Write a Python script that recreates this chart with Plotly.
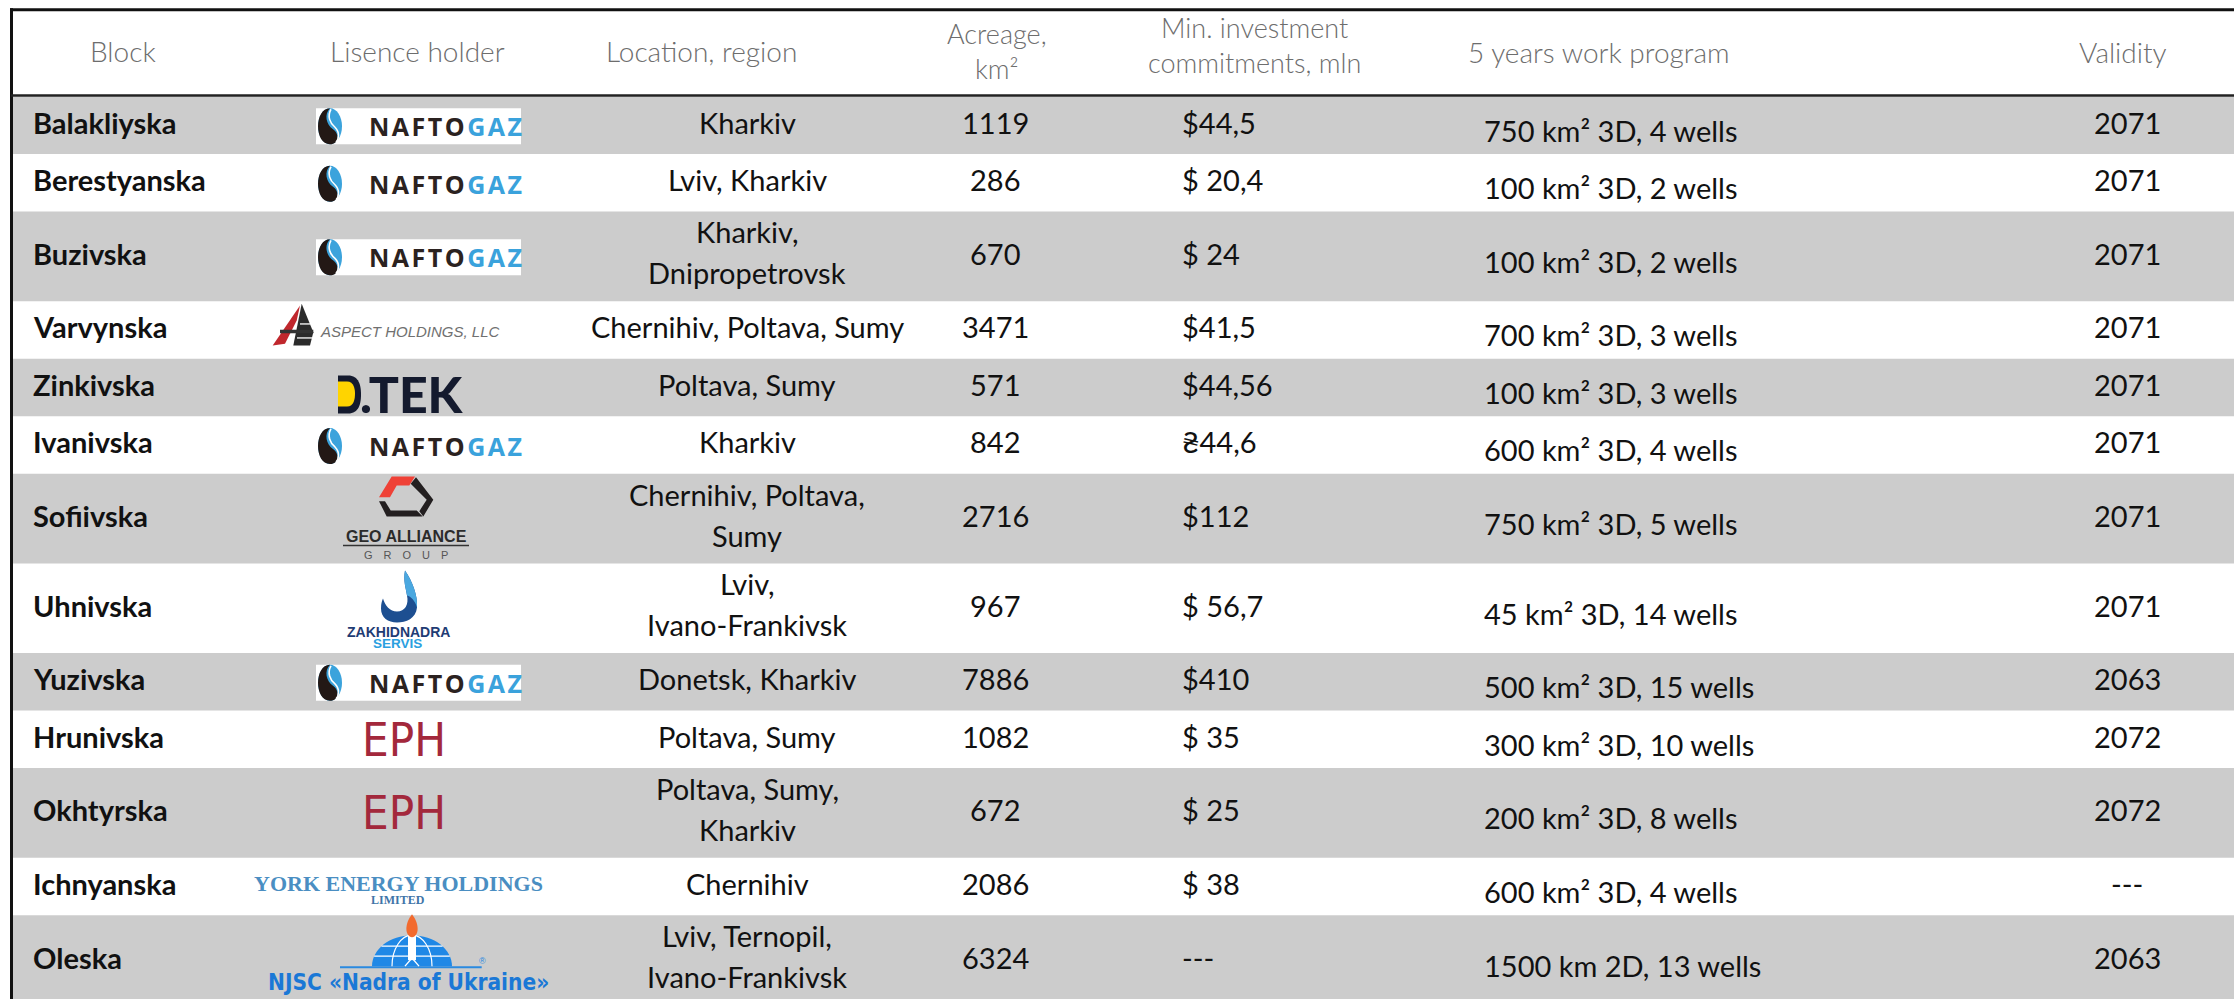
import plotly.graph_objects as go

# ---------------- data ----------------
blocks = ["Balakliyska", "Berestyanska", "Buzivska", "Varvynska", "Zinkivska", "Ivanivska",
          "Sofiivska", "Uhnivska", "Yuzivska", "Hrunivska", "Okhtyrska", "Ichnyanska", "Oleska"]
holders = ["naftogaz", "naftogaz", "naftogaz", "aspect", "dtek", "naftogaz",
           "geo", "zakhid", "naftogaz", "eph", "eph", "york", "nadra"]
locations = ["Kharkiv", "Lviv, Kharkiv", "Kharkiv,<br>Dnipropetrovsk", "Chernihiv, Poltava, Sumy",
             "Poltava, Sumy", "Kharkiv", "Chernihiv, Poltava,<br>Sumy", "Lviv,<br>Ivano-Frankivsk",
             "Donetsk, Kharkiv", "Poltava, Sumy", "Poltava, Sumy,<br>Kharkiv", "Chernihiv",
             "Lviv, Ternopil,<br>Ivano-Frankivsk"]
acreage = [1119, 286, 670, 3471, 571, 842, 2716, 967, 7886, 1082, 672, 2086, 6324]
investment = ["$44,5", "$ 20,4", "$ 24", "$41,5", "$44,56", "₴44,6", "$112", "$ 56,7",
              "$410", "$ 35", "$ 25", "$ 38", "---"]
work_program = ["750 km² 3D, 4 wells", "100 km² 3D, 2 wells", "100 km² 3D, 2 wells",
                "700 km² 3D, 3 wells", "100 km² 3D, 3 wells", "600 km² 3D, 4 wells",
                "750 km² 3D, 5 wells", "45 km² 3D, 14 wells", "500 km² 3D, 15 wells",
                "300 km² 3D, 10 wells", "200 km² 3D, 8 wells", "600 km² 3D, 4 wells",
                "1500 km 2D, 13 wells"]
validity = ["2071", "2071", "2071", "2071", "2071", "2071", "2071", "2071",
            "2063", "2072", "2072", "---", "2063"]
header_labels = ["Block", "Lisence holder", "Location, region", "Acreage,<br>km²",
                 "Min. investment<br>commitments, mln", "5 years work program", "Validity"]

# ---------------- layout constants ----------------
W, H = 2234, 999
FONT = "Lato, 'Fira Sans', 'Open Sans', sans-serif"
SANS = "'Liberation Sans', Arial, sans-serif"
NARROW = "'Liberation Sans Narrow', 'Arial Narrow', 'DejaVu Sans Condensed', sans-serif"
SERIF = "'Liberation Serif', 'Times New Roman', serif"
GRAY = "#cccccc"
HEADER_BOTTOM = 96.5
SINGLE_H, DOUBLE_H = 57.5, 89.7
LEFT_EDGE = 13

header_x = [123, 417, 701, 997, 1254, 1599, 2123]
header_y = [51, 51, 51, 50.5, 45, 52, 52]
X_BLOCK, X_HOLDER, X_LOC, X_ACRE, X_INV, X_WP, X_VAL = 31, 418, 747, 995, 1180, 1482, 2127

annotations = []
shapes = []


def txt(x, y, text, size, color="#111111", family=FONT, weight=400, xanchor="center",
        yanchor="middle", italic=False):
    annotations.append(dict(x=x, y=y, xref="x", yref="y", text=text, showarrow=False,
                            xanchor=xanchor, yanchor=yanchor,
                            font=dict(size=size, color=color, family=family, weight=weight,
                                      style="italic" if italic else "normal")))


def rect(x0, y0, x1, y1, fill, layer="below"):
    shapes.append(dict(type="rect", xref="x", yref="y", x0=x0, y0=y0, x1=x1, y1=y1,
                       fillcolor=fill, line=dict(width=0), layer=layer))


def seg(x0, y0, x1, y1, color, width, layer="above"):
    shapes.append(dict(type="line", xref="x", yref="y", x0=x0, y0=y0, x1=x1, y1=y1,
                       line=dict(color=color, width=width), layer=layer))


def path(cmds, ox, oy, fill=None, line_color=None, line_width=0):
    parts = []
    for c in cmds:
        op = c[0]
        if op == "Z":
            parts.append("Z")
            continue
        nums = c[1:]
        pts = []
        for i in range(0, len(nums), 2):
            pts.append(f"{ox + nums[i]:.2f},{oy + nums[i + 1]:.2f}")
        parts.append(op + " " + " ".join(pts))
    d = dict(type="path", xref="x", yref="y", path=" ".join(parts), layer="above",
             line=dict(width=line_width, color=line_color or "rgba(0,0,0,0)"))
    if fill:
        d["fillcolor"] = fill
    shapes.append(d)


def poly(pts, ox, oy, fill):
    cmds = [("M",) + pts[0]] + [("L",) + p for p in pts[1:]] + [("Z",)]
    path(cmds, ox, oy, fill=fill)


K = 0.5523


def ellipse_cmds(rx, ry):
    return [("M", -rx, 0), ("C", -rx, -K * ry, -K * rx, -ry, 0, -ry),
            ("C", K * rx, -ry, rx, -K * ry, rx, 0),
            ("C", rx, K * ry, K * rx, ry, 0, ry),
            ("C", -K * rx, ry, -rx, K * ry, -rx, 0), ("Z",)]


def half_dome_cmds(rx, ry):
    return [("M", -rx, 0), ("C", -rx, -K * ry, -K * rx, -ry, 0, -ry),
            ("C", K * rx, -ry, rx, -K * ry, rx, 0), ("Z",)]


# ---------------- logos ----------------
def logo_naftogaz(cx, cy):
    rect(cx - 102, cy - 17, cx + 103, cy + 19, "white", layer="above")
    ix, iy = cx - 88, cy + 1
    path(ellipse_cmds(12, 18), ix, iy, fill="#3ba3dc")
    path([("M", 0, -18), ("C", -16, -18, -16, 18, 0, 18), ("C", 9, 18, 10, 8, 3, 3),
          ("C", -4, -2, -6, -12, 0, -18), ("Z",)], ix, iy, fill="#231815")
    path([("M", 1, -17), ("C", -3, -10, 0, -3, 5, 1), ("C", 10, 6, 9, 13, 6, 16)], ix, iy,
         line_color="white", line_width=1.6)
    hs = "\u200a"
    nafto = hs.join("NAFTO")
    gaz = hs.join("GAZ")
    txt(cx - 51, cy + 1, f"{nafto}{hs}<span style='color:#3aa2dc'>{gaz}</span>", 25,
        color="#2b2220", family="'Open Sans', sans-serif", weight=700, xanchor="left")


def logo_aspect(cx, cy):
    poly([(-118, -24.5), (-145.3, 15.5), (-133, 13.9), (-121.3, -9.5)], cx, cy, "#c0272d")
    poly([(-116.3, -26.2), (-104.7, 2.3), (-108, 15.6), (-124.7, 15.6)], cx, cy, "#2b2b2b")
    rect(cx - 138, cy - 0.2, cx - 104.7, cy + 3.3, "#333333", layer="above")
    seg(cx - 121, cy + 8, cx - 106, cy + 8, "white", 1.3)
    seg(cx - 118, cy - 6, cx - 108, cy - 6, "white", 1.3)
    txt(cx - 100, cy + 2, "ASPECT HOLDINGS, LLC", 15, color="#707070", family=SANS,
        xanchor="left", italic=True)


def logo_dtek(cx, cy):
    path([("M", -80, -12), ("L", -70, -12), ("C", -59, -12, -57, -2, -57, 7),
          ("C", -57, 16, -59, 26, -70, 26), ("L", -80, 26), ("Z",)], cx, cy, fill="#141a2e")
    path([("M", -80, -6), ("L", -71, -6), ("C", -64, -6, -63, 2, -63, 6),
          ("C", -63, 11, -64, 19, -71, 19), ("L", -80, 19), ("Z",)], cx, cy, fill="#ffd400")
    txt(cx - 60, cy + 7, ".TEK", 50, color="#141a2e", family=FONT, weight=900, xanchor="left")


def logo_geo(cx, cy):
    poly([(-39, -21.4), (-26.3, -42.1), (-3, -42.1), (-8.7, -33.1), (-21.3, -33.1), (-28, -21.4)],
         cx, cy, "#ef4136")
    poly([(-2, -41.4), (15.3, -18.8), (5.3, -2.1), (1.3, -7.4), (8.7, -18.8), (-7.3, -34.8)],
         cx, cy, "#231f20")
    poly([(-39, -17.4), (-31.3, -2.1), (4.7, -2.1), (-1.3, -8.1), (-27.3, -8.1), (-33, -17.4)],
         cx, cy, "#231f20")
    txt(cx - 12, cy + 17.5, "GEO ALLIANCE", 16, color="#2b2b2b", family=SANS, weight=700)
    seg(cx - 75, cy + 27, cx + 51, cy + 27, "#333333", 1.6)
    txt(cx - 12.5, cy + 36, "G\u2003R\u2003O\u2003U\u2003P", 11, color="#555555", family=SANS)


def logo_zakhid(cx, cy):
    ox, oy = cx - 20, cy - 11.75
    path([("M", 7, -26), ("C", 14, -16, 20, -1, 19, 11), ("C", 18, 22, 8, 26, -1, 26),
          ("C", -10, 26, -17, 21, -17, 12), ("C", -17, 7, -16, 4, -15, 2),
          ("C", -13, 9, -8, 15, -1, 15), ("C", 7, 15, 11, 8, 9, -1),
          ("C", 8, -8, 5, -16, 7, -26), ("Z",)], ox, oy, fill="#1d4f91")
    path([("M", 7, -26), ("C", 14, -16, 20, -1, 19, 11), ("C", 17, 4, 13, 0, 9, -1),
          ("C", 8, -8, 5, -16, 7, -26), ("Z",)], ox, oy, fill="#4aa8e0")
    txt(cx - 19.5, cy + 23.5, "ZAKHIDNADRA", 14, color="#1f3c74", family=SANS, weight=700)
    txt(cx - 20.5, cy + 35.5, "SERVIS", 13.5, color="#2aa0e0", family=SANS, weight=700)


def logo_eph(cx, cy):
    txt(cx - 14.5, cy, "EPH", 47, color="#a3283c", family=NARROW, weight=400)


def logo_york(cx, cy):
    txt(cx - 19.6, cy - 3, "YORK ENERGY HOLDINGS", 22, color="#4a8ec2", family=SERIF, weight=700)
    txt(cx - 19.6, cy + 13.5, "LIMITED", 12, color="#3f75a8", family=SERIF, weight=700)


def logo_nadra(cx, cy):
    seg(cx - 78, cy + 7, cx + 63.7, cy + 7, "#2a8ae0", 2)
    ox, oy = cx - 6, cy + 6
    path(half_dome_cmds(40, 31), ox, oy, fill="#1f88e6")
    for h in (10, 20):
        w = 40 * (1 - (h / 31) ** 2) ** 0.5
        seg(ox - w, oy - h, ox + w, oy - h, "white", 1.2)
    path([("M", -20, 0), ("C", -20, -17, -11, -31, 0, -31), ("C", 11, -31, 20, -17, 20, 0)],
         ox, oy, line_color="white", line_width=1.2)
    rect(ox - 4, oy - 31, ox + 4, oy - 6, "white", layer="above")
    path([("M", -7, 0), ("L", 0, -8), ("L", 7, 0)], ox, oy, line_color="white", line_width=1.4)
    path([("M", 0, -52), ("C", 8, -42, 7, -30, 0, -29), ("C", -7, -30, -8, -42, 0, -52), ("Z",)],
         ox, oy, fill="#f26a2e")
    txt(cx + 64, cy + 1, "®", 9, color="#2a8ae0", family=SANS)
    txt(cx - 9.5, cy + 22, "NJSC «Nadra of Ukraine»", 22.5, color="#1a78d6",
        family="'DejaVu Sans Condensed', 'DejaVu Sans', sans-serif", weight=700)


LOGOS = {"naftogaz": logo_naftogaz, "aspect": logo_aspect, "dtek": logo_dtek,
         "geo": logo_geo, "zakhid": logo_zakhid, "eph": logo_eph, "york": logo_york,
         "nadra": logo_nadra}

# ---------------- frame ----------------
seg(10, 9.7, W, 9.7, "#111111", 3)
seg(11.5, 8.3, 11.5, H + 5, "#111111", 3)

# headers
for hx, hy, lab in zip(header_x, header_y, header_labels):
    txt(hx, hy, lab, 27 if "<br>" in lab else 28, color="#6d6d6d", weight=300)

# rows
y = HEADER_BOTTOM
for i, (blk, hold, loc, ac, inv, wp, val) in enumerate(
        zip(blocks, holders, locations, acreage, investment, work_program, validity)):
    loc_lines = loc.split("<br>")
    h = SINGLE_H if len(loc_lines) == 1 else DOUBLE_H
    y0, y1 = y, y + h
    cy = (y0 + y1) / 2
    if i % 2 == 0:
        rect(LEFT_EDGE, y0, W, y1, GRAY)
    txt(X_BLOCK, cy - 3, blk, 29, weight=700, xanchor="left")
    if len(loc_lines) == 1:
        txt(X_LOC, cy - 3, loc, 29)
    else:
        for k, ln in enumerate(loc_lines):
            txt(X_LOC, cy - 4 - 20.5 + 41 * k, ln, 29)
    txt(X_ACRE, cy - 3, str(ac), 29)
    txt(X_INV, cy - 3, inv, 29, xanchor="left")
    txt(X_WP, cy + 5, wp, 29, xanchor="left")
    txt(X_VAL, cy - 3, val, 29)
    LOGOS[hold](X_HOLDER, cy)
    y = y1

seg(LEFT_EDGE - 2, HEADER_BOTTOM - 1, W, HEADER_BOTTOM - 1, "#222222", 2.5)

fig = go.Figure(go.Scatter(x=[0], y=[0], mode="markers", marker=dict(opacity=0),
                           hoverinfo="skip", showlegend=False))
fig.update_layout(
    width=W, height=H, margin=dict(l=0, r=0, t=0, b=0),
    paper_bgcolor="white", plot_bgcolor="white",
    xaxis=dict(range=[0, W], visible=False, fixedrange=True),
    yaxis=dict(range=[H, 0], visible=False, fixedrange=True),
    annotations=annotations, shapes=shapes, showlegend=False,
)
fig.write_html("out.html", config={"displayModeBar": False},
               post_script="document.body.style.margin='0';document.body.style.overflow='hidden';")
